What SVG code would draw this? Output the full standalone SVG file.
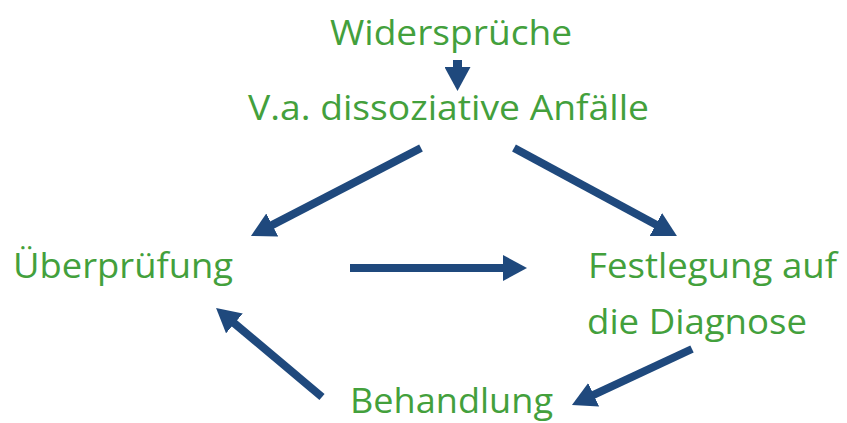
<svg xmlns="http://www.w3.org/2000/svg" width="847" height="423" viewBox="0 0 847 423">
<style>
.t{font-family:"Open Sans","Noto Sans","Liberation Sans",sans-serif;font-size:34px;fill:#43a03c}
.c{stroke:#1f497d;stroke-width:8;fill:none;marker-end:url(#ah)}
</style>
<defs>
<marker id="ah" markerUnits="userSpaceOnUse" markerWidth="24" markerHeight="26" viewBox="0 0 24 26" refX="2" refY="13" orient="auto">
<path d="M0,0 L24,13 L0,26 z" fill="#1f497d"/>
</marker>
</defs>
<rect width="847" height="423" fill="#fff"/>
<g id="connectors">
<line class="c" x1="457.5" y1="60" x2="457.5" y2="69" style="stroke-width:9"/>
<line class="c" x1="421" y1="148" x2="270.5" y2="225.9"/>
<line class="c" x1="514" y1="148" x2="657.6" y2="225.5"/>
<line class="c" x1="350" y1="268" x2="505" y2="268"/>
<line class="c" x1="692" y1="349" x2="591.9" y2="395.7"/>
<line class="c" x1="322" y1="397" x2="232.9" y2="322.1"/>
</g>
<g id="widersprueche"><text class="t" x="330" y="45" textLength="242" lengthAdjust="spacingAndGlyphs">Widersprüche</text></g>
<g id="va"><text class="t" x="248" y="120" textLength="401" lengthAdjust="spacingAndGlyphs">V.a. dissoziative Anfälle</text></g>
<g id="ueberpruefung"><text class="t" x="13" y="278" textLength="220" lengthAdjust="spacingAndGlyphs">Überprüfung</text></g>
<g id="festlegung"><text class="t" x="588" y="278" textLength="249" lengthAdjust="spacingAndGlyphs">Festlegung auf</text><text class="t" x="587" y="334" textLength="220" lengthAdjust="spacingAndGlyphs">die Diagnose</text></g>
<g id="behandlung"><text class="t" x="350" y="413" textLength="203" lengthAdjust="spacingAndGlyphs">Behandlung</text></g>
</svg>
